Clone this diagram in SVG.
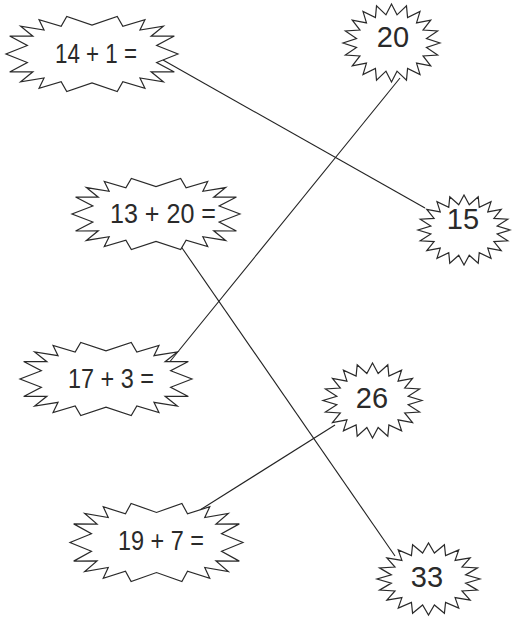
<svg xmlns="http://www.w3.org/2000/svg" xmlns:xlink="http://www.w3.org/1999/xlink" width="512" height="617" viewBox="0 0 512 617">
<style>
.burst{fill:#fff;stroke:#2a2a2a;stroke-width:1.2;vector-effect:non-scaling-stroke;stroke-linejoin:miter}
.lbl{font-family:"Liberation Sans",Arial,sans-serif;font-size:28px;fill:#2a2a2a}
.num{font-family:"Liberation Sans",Arial,sans-serif;font-size:29px;fill:#2a2a2a;text-anchor:middle}
.conn line{stroke:#222;stroke-width:1.1}
</style>
<defs>
<path id="bq" class="burst" d="M100,0 L75.19,22.32 95.74,47.19 68.72,46.78 82.98,73.39 55.78,63.07 61.56,90.42 35.86,72.76 29.36,98.94 0,76 -29.36,98.94 -35.86,72.76 -61.56,90.42 -55.78,63.07 -82.98,73.39 -68.72,46.78 -95.74,47.19 -75.19,22.32 -100,0 -75.19,-22.32 -95.74,-47.19 -68.72,-46.78 -82.98,-73.39 -55.78,-63.07 -61.56,-90.42 -35.86,-72.76 -29.36,-98.94 0,-76 29.36,-98.94 35.86,-72.76 61.56,-90.42 55.78,-63.07 82.98,-73.39 68.72,-46.78 95.74,-47.19 75.19,-22.32 Z"/>
<path id="ba" class="burst" d="M100,0 L72.1,11.42 95.11,30.9 65.04,33.14 80.9,58.78 51.62,51.62 58.78,80.9 33.14,65.04 30.9,95.11 11.42,72.1 0,100 -11.42,72.1 -30.9,95.11 -33.14,65.04 -58.78,80.9 -51.62,51.62 -80.9,58.78 -65.04,33.14 -95.11,30.9 -72.1,11.42 -100,0 -72.1,-11.42 -95.11,-30.9 -65.04,-33.14 -80.9,-58.78 -51.62,-51.62 -58.78,-80.9 -33.14,-65.04 -30.9,-95.11 -11.42,-72.1 0,-100 11.42,-72.1 30.9,-95.11 33.14,-65.04 58.78,-80.9 51.62,-51.62 80.9,-58.78 65.04,-33.14 95.11,-30.9 72.1,-11.42 Z"/>
</defs>
<rect width="512" height="617" fill="#fff"/>
<g id="connectors" class="conn">
<line x1="163" y1="60" x2="425" y2="208"/>
<line x1="400" y1="78" x2="168" y2="364"/>
<line x1="180" y1="245" x2="395" y2="556"/>
<line x1="335" y1="425" x2="200" y2="510"/>
</g>
<g id="q1">
<use xlink:href="#bq" href="#bq" transform="translate(92,54) scale(0.86,0.38)"/>
<text class="lbl" x="55" y="63" textLength="82" lengthAdjust="spacingAndGlyphs">14 + 1 =</text>
</g>
<g id="a20">
<use xlink:href="#ba" href="#ba" transform="translate(391.5,43) scale(0.485,0.39)"/>
<text class="num" x="393" y="47">20</text>
</g>
<g id="q2">
<use xlink:href="#bq" href="#bq" transform="translate(156,214) scale(0.84,0.36)"/>
<text class="lbl" x="110" y="223" textLength="106" lengthAdjust="spacingAndGlyphs">13 + 20 =</text>
</g>
<g id="a15">
<use xlink:href="#ba" href="#ba" transform="translate(464,230) scale(0.46,0.35)"/>
<text class="num" x="463" y="229">15</text>
</g>
<g id="q3">
<use xlink:href="#bq" href="#bq" transform="translate(106,379) scale(0.86,0.37)"/>
<text class="lbl" x="68" y="388" textLength="86" lengthAdjust="spacingAndGlyphs">17 + 3 =</text>
</g>
<g id="a26">
<use xlink:href="#ba" href="#ba" transform="translate(372.5,400.5) scale(0.495,0.375)"/>
<text class="num" x="372" y="408">26</text>
</g>
<g id="q4">
<use xlink:href="#bq" href="#bq" transform="translate(156.5,542.5) scale(0.865,0.395)"/>
<text class="lbl" x="118" y="550" textLength="86" lengthAdjust="spacingAndGlyphs">19 + 7 =</text>
</g>
<g id="a33">
<use xlink:href="#ba" href="#ba" transform="translate(428.5,579) scale(0.515,0.36)"/>
<text class="num" x="427" y="587">33</text>
</g>
</svg>
